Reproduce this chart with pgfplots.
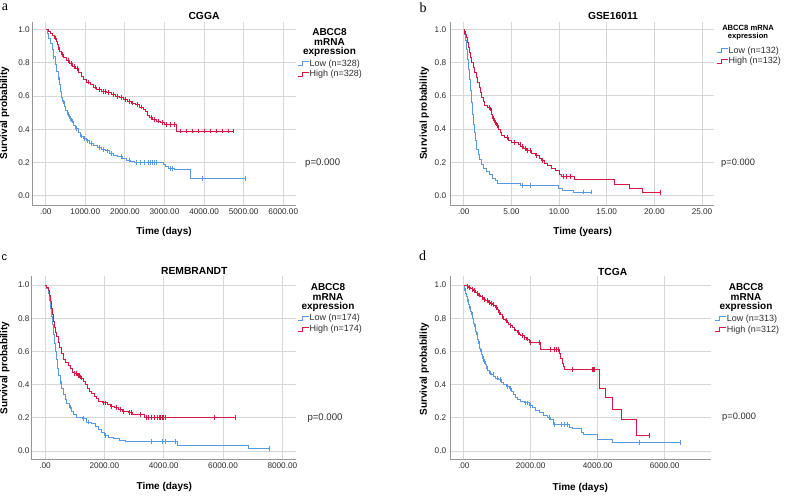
\documentclass[border=0pt]{standalone}
\usepackage{pgfplots}
\pgfplotsset{compat=1.18}
\usepackage{fontspec}
\setmainfont{Liberation Sans}
\newfontfamily\serifletter{Liberation Serif}
\definecolor{kmblue}{RGB}{90,152,225}
\definecolor{kmred}{RGB}{215,25,65}
\definecolor{gridgray}{RGB}{215,215,215}
\definecolor{axgray}{RGB}{150,150,150}
\definecolor{txt}{RGB}{45,45,45}
\newcommand{\fs}[1]{\fontsize{#1}{#1}\selectfont}
\newcommand{\kmicon}[3]{\draw[draw=#1, line width=0.9pt] (#2pt,#3pt) -- ++(5pt,0pt) -- ++(0pt,4pt) -- ++(6.5pt,0pt);}
\pgfplotsset{
  kmaxis/.style={
    scale only axis, height=184pt, anchor=north west,
    axis x line*=bottom, axis y line*=left,
    axis line style={draw=axgray, line width=0.8pt, -},
    grid=major, grid style={draw=gridgray, line width=0.8pt},
    major tick length=0pt,
    /pgf/number format/assume math mode=true,
    tick label style={font=\fs{8.2}, text=txt},
    xticklabel style={anchor=north, inner sep=0pt, yshift=-3pt},
    yticklabel style={anchor=east, inner sep=0pt},
    ytick={0,0.2,0.4,0.6,0.8,1.0},
    yticklabels={0.0,0.2,0.4,0.6,0.8,1.0},
  },
  kmline/.style={const plot, line width=0.9pt, draw=#1, color=#1},
  kmcens/.style={only marks, mark=|, mark size=2.4pt, draw=#1, color=#1, mark options={solid, line width=0.7pt, draw=#1, color=#1}},
}
\begin{document}
\begin{tikzpicture}
\useasboundingbox (0pt,0pt) rectangle (792pt,-498pt);

% ---------------- Panel a: CGGA ----------------
\begin{axis}[kmaxis, at={(32pt,-21.7pt)}, width=264pt,
  xmin=-346, xmax=6321, ymin=-0.060, ymax=1.048,
  xtick={0,1000,2000,3000,4000,5000,6000},
  xticklabels={.00,1000.00,2000.00,3000.00,4000.00,5000.00,6000.00},
  yticklabel style={xshift=-2pt}]
\addplot[kmline=kmblue] coordinates {(0,1.0) (40,0.98) (80,0.95) (120,0.92) (160,0.88) (200,0.84) (240,0.79) (280,0.75) (310,0.71) (340,0.67) (370,0.63) (400,0.59) (430,0.565) (470,0.54) (510,0.515) (550,0.49) (600,0.465) (650,0.45) (700,0.425) (760,0.405) (820,0.38) (880,0.36) (950,0.345) (1020,0.33) (1100,0.315) (1200,0.305) (1300,0.29) (1400,0.28) (1500,0.27) (1600,0.255) (1700,0.245) (1800,0.235) (1950,0.225) (2050,0.215) (2150,0.205) (2250,0.20) (2970,0.19) (3020,0.177) (3100,0.165) (3250,0.157) (3660,0.106) (5030,0.106)};
\addplot[kmcens=kmblue] coordinates {(200,0.84) (320,0.71) (450,0.565) (560,0.49) (620,0.465) (680,0.45) (780,0.405) (900,0.36) (980,0.345) (1050,0.33) (1150,0.315) (1350,0.29) (1450,0.28) (1550,0.27) (1650,0.255) (1900,0.235) (2100,0.215) (2300,0.20) (2400,0.20) (2500,0.20) (2600,0.20) (2650,0.20) (2700,0.20) (2750,0.20) (2800,0.20) (3150,0.165) (3200,0.165) (3950,0.106) (5030,0.106)};
\addplot[kmline=kmred] coordinates {(0,1.0) (60,0.99) (120,0.98) (180,0.965) (230,0.95) (270,0.93) (300,0.91) (320,0.89) (350,0.87) (400,0.85) (450,0.835) (520,0.815) (600,0.795) (680,0.78) (760,0.765) (830,0.745) (900,0.72) (960,0.70) (1040,0.685) (1120,0.67) (1200,0.655) (1290,0.64) (1400,0.63) (1540,0.622) (1650,0.61) (1750,0.598) (1850,0.59) (1960,0.578) (2060,0.568) (2170,0.558) (2270,0.548) (2380,0.534) (2460,0.52) (2520,0.505) (2570,0.485) (2620,0.47) (2700,0.458) (2800,0.45) (2900,0.44) (3000,0.43) (3290,0.39) (4740,0.39)};
\addplot[kmcens=kmred] coordinates {(250,0.95) (330,0.89) (420,0.85) (560,0.815) (640,0.795) (720,0.78) (800,0.765) (1080,0.685) (1250,0.655) (1350,0.64) (1450,0.63) (1500,0.63) (1580,0.622) (1700,0.61) (1800,0.598) (1900,0.59) (2000,0.578) (2100,0.568) (2200,0.558) (2320,0.548) (2420,0.534) (2660,0.47) (2750,0.458) (2850,0.45) (2950,0.44) (3050,0.43) (3150,0.43) (3250,0.43) (3400,0.39) (3550,0.39) (3700,0.39) (3850,0.39) (4000,0.39) (4150,0.39) (4300,0.39) (4450,0.39) (4600,0.39) (4740,0.39)};
\end{axis}

% ---------------- Panel b: GSE16011 ----------------
\begin{axis}[kmaxis, at={(450.3pt,-21.7pt)}, width=264pt,
  xmin=-1.41, xmax=26.29, ymin=-0.060, ymax=1.0456,
  xtick={0,5,10,15,20,25},
  xticklabels={.00,5.00,10.00,15.00,20.00,25.00},
  yticklabel style={xshift=-4pt}]
\addplot[kmline=kmblue] coordinates {(0,1.0) (0.1,0.97) (0.2,0.93) (0.3,0.88) (0.4,0.82) (0.5,0.76) (0.6,0.70) (0.7,0.63) (0.8,0.56) (0.9,0.49) (1.0,0.43) (1.1,0.38) (1.2,0.33) (1.35,0.28) (1.5,0.25) (1.7,0.22) (1.9,0.19) (2.1,0.165) (2.4,0.145) (2.7,0.125) (3.0,0.105) (3.3,0.09) (3.5,0.076) (6.0,0.06) (9.9,0.045) (10.4,0.03) (11.5,0.022) (13.4,0.022)};
\addplot[kmcens=kmblue] coordinates {(6.1,0.06) (7.0,0.06) (12.6,0.022) (13.4,0.022)};
\addplot[kmline=kmred] coordinates {(0,1.0) (0.1,0.985) (0.2,0.97) (0.3,0.95) (0.4,0.92) (0.5,0.89) (0.6,0.86) (0.7,0.83) (0.85,0.80) (1.0,0.77) (1.15,0.74) (1.3,0.71) (1.45,0.68) (1.6,0.65) (1.75,0.62) (1.9,0.59) (2.05,0.565) (2.2,0.545) (2.5,0.53) (2.75,0.515) (2.9,0.49) (3.05,0.465) (3.2,0.44) (3.4,0.42) (3.6,0.40) (3.8,0.38) (4.0,0.365) (4.3,0.35) (4.7,0.335) (5.05,0.32) (5.7,0.31) (6.0,0.295) (6.3,0.285) (6.6,0.27) (7.1,0.255) (7.5,0.24) (7.9,0.225) (8.2,0.21) (8.5,0.195) (8.8,0.18) (9.2,0.165) (9.6,0.15) (10.0,0.13) (10.3,0.115) (11.6,0.096) (15.8,0.066) (17.4,0.042) (18.8,0.02) (20.6,0.02)};
\addplot[kmcens=kmred] coordinates {(0.1,0.985) (2.7,0.53) (2.85,0.515) (3.1,0.465) (3.3,0.44) (3.5,0.42) (4.6,0.35) (5.3,0.32) (5.9,0.31) (6.1,0.295) (6.5,0.285) (6.7,0.27) (7.0,0.27) (7.6,0.24) (8.3,0.21) (10.4,0.115) (10.8,0.115) (11.2,0.115) (20.6,0.02)};
\end{axis}

% ---------------- Panel c: REMBRANDT ----------------
\begin{axis}[kmaxis, at={(31.7pt,-275.7pt)}, width=264.3pt,
  xmin=-448, xmax=8460, ymin=-0.052, ymax=1.056,
  xtick={0,2000,4000,6000,8000},
  xticklabels={.00,2000.00,4000.00,6000.00,8000.00},
  yticklabel style={xshift=-2pt}]
\addplot[kmline=kmblue] coordinates {(0,1.0) (60,0.98) (110,0.95) (150,0.91) (190,0.86) (220,0.81) (250,0.76) (280,0.70) (310,0.65) (340,0.60) (380,0.55) (420,0.50) (460,0.455) (520,0.42) (560,0.38) (620,0.34) (680,0.31) (740,0.285) (820,0.265) (880,0.24) (950,0.22) (1050,0.205) (1250,0.195) (1400,0.175) (1550,0.165) (1700,0.15) (1800,0.13) (1900,0.11) (2000,0.095) (2150,0.085) (2300,0.075) (2500,0.065) (2700,0.056) (4450,0.036) (6850,0.016) (7560,0.016)};
\addplot[kmcens=kmblue] coordinates {(530,0.42) (870,0.265) (1300,0.195) (1450,0.175) (2020,0.095) (3600,0.056) (3950,0.056) (4050,0.056) (4400,0.056) (7560,0.016)};
\addplot[kmline=kmred] coordinates {(0,1.0) (50,0.985) (100,0.965) (150,0.935) (190,0.90) (220,0.86) (250,0.82) (280,0.78) (320,0.745) (360,0.715) (400,0.69) (450,0.655) (500,0.625) (560,0.585) (620,0.55) (700,0.535) (780,0.515) (850,0.495) (920,0.475) (1000,0.465) (1100,0.455) (1200,0.44) (1280,0.42) (1350,0.40) (1420,0.38) (1500,0.36) (1580,0.345) (1660,0.33) (1740,0.315) (1800,0.30) (1950,0.29) (2100,0.28) (2200,0.27) (2350,0.26) (2480,0.25) (2600,0.24) (2800,0.23) (2950,0.22) (3350,0.20) (6430,0.20)};
\addplot[kmcens=kmred] coordinates {(1000,0.465) (1050,0.465) (1120,0.455) (1160,0.455) (1220,0.44) (1960,0.29) (2050,0.29) (2250,0.27) (2400,0.26) (2550,0.25) (2650,0.24) (2850,0.23) (2900,0.23) (3200,0.22) (3400,0.20) (3500,0.20) (3600,0.20) (3700,0.20) (3800,0.20) (3850,0.20) (3900,0.20) (3950,0.20) (4000,0.20) (4050,0.20) (5700,0.20) (6430,0.20)};
\end{axis}

% ---------------- Panel d: TCGA ----------------
\begin{axis}[kmaxis, at={(450.3pt,-275.7pt)}, width=260.7pt,
  xmin=-400, xmax=7382, ymin=-0.052, ymax=1.056,
  xtick={0,2000,4000,6000},
  xticklabels={.00,2000.00,4000.00,6000.00},
  yticklabel style={xshift=-4pt}]
\addplot[kmline=kmblue] coordinates {(0,1.0) (30,0.97) (60,0.95) (90,0.93) (120,0.90) (150,0.88) (180,0.86) (210,0.84) (240,0.82) (270,0.80) (300,0.77) (330,0.75) (360,0.72) (390,0.70) (420,0.67) (450,0.65) (480,0.62) (510,0.60) (540,0.58) (570,0.56) (600,0.54) (640,0.52) (680,0.50) (720,0.485) (780,0.47) (840,0.46) (900,0.45) (960,0.44) (1040,0.43) (1120,0.415) (1200,0.40) (1280,0.39) (1360,0.375) (1420,0.36) (1480,0.34) (1540,0.325) (1600,0.31) (1680,0.30) (1800,0.29) (1950,0.275) (2050,0.26) (2150,0.245) (2250,0.23) (2380,0.215) (2500,0.20) (2600,0.19) (2680,0.16) (3150,0.145) (3250,0.135) (3500,0.115) (3560,0.10) (4000,0.072) (4440,0.052) (6460,0.052)};
\addplot[kmcens=kmblue] coordinates {(50,0.97) (130,0.90) (200,0.86) (260,0.82) (350,0.75) (400,0.70) (460,0.65) (520,0.60) (580,0.56) (620,0.54) (700,0.50) (800,0.47) (880,0.46) (1000,0.44) (1100,0.43) (1300,0.39) (1400,0.375) (1850,0.29) (1900,0.29) (2000,0.275) (2550,0.20) (2700,0.16) (2900,0.16) (3000,0.16) (3100,0.16) (5250,0.052) (6460,0.052)};
\addplot[kmline=kmred] coordinates {(0,1.0) (50,0.995) (100,0.99) (150,0.985) (200,0.98) (250,0.975) (300,0.965) (350,0.955) (400,0.95) (450,0.94) (500,0.93) (550,0.925) (600,0.915) (650,0.91) (700,0.905) (750,0.895) (800,0.89) (850,0.885) (900,0.875) (950,0.865) (1000,0.85) (1050,0.835) (1100,0.825) (1150,0.81) (1200,0.795) (1250,0.785) (1300,0.775) (1350,0.765) (1400,0.755) (1450,0.745) (1500,0.735) (1550,0.725) (1600,0.715) (1650,0.705) (1700,0.695) (1800,0.685) (1880,0.675) (1950,0.655) (2290,0.614) (2860,0.59) (2900,0.555) (2940,0.53) (2980,0.51) (3010,0.49) (4050,0.38) (4230,0.32) (4450,0.253) (4720,0.189) (5160,0.096) (5540,0.096)};
\addplot[kmcens=kmred] coordinates {(100,0.99) (180,0.985) (260,0.975) (330,0.965) (420,0.95) (480,0.94) (560,0.925) (620,0.915) (700,0.905) (760,0.895) (820,0.89) (880,0.885) (960,0.865) (1060,0.835) (1160,0.81) (1280,0.785) (1400,0.755) (1520,0.735) (1620,0.715) (1750,0.695) (1820,0.685) (1900,0.675) (2000,0.655) (2250,0.655) (2600,0.614) (2700,0.614) (2780,0.614) (2820,0.614) (3250,0.49) (3850,0.49) (3880,0.49) (3900,0.49) (5540,0.096)};
\end{axis}

% ---------------- Text: panel a ----------------
\node[anchor=base, inner sep=0pt, font=\serifletter\fs{14}] at (5pt,-10pt) {a};
\node[anchor=base, inner sep=0pt, font=\bfseries\fs{10.3}] at (204pt,-19pt) {CGGA};
\node[rotate=90, inner sep=0pt, font=\bfseries\fs{10}] at (4.5pt,-113pt) {Survival probability};
\node[anchor=base, inner sep=0pt, font=\bfseries\fs{10}] at (164pt,-234.5pt) {Time (days)};
\node[anchor=base, inner sep=0pt, font=\bfseries\fs{10}] at (329.5pt,-35pt) {ABCC8};
\node[anchor=base, inner sep=0pt, font=\bfseries\fs{10}] at (329.5pt,-45pt) {mRNA};
\node[anchor=base, inner sep=0pt, font=\bfseries\fs{10}] at (329.5pt,-54pt) {expression};
\kmicon{kmblue}{297.5}{-65.5}
\kmicon{kmred}{297.5}{-76}
\node[anchor=base west, inner sep=0pt, font=\fs{9}, text=txt] at (309.5pt,-66pt) {Low (n=328)};
\node[anchor=base west, inner sep=0pt, font=\fs{9}, text=txt] at (309.5pt,-76.5pt) {High (n=328)};
\node[anchor=base west, inner sep=0pt, font=\fs{9.6}, text=txt] at (305pt,-165.3pt) {p=0.000};

% ---------------- Text: panel b ----------------
\node[anchor=base, inner sep=0pt, font=\serifletter\fs{14}] at (423pt,-12.5pt) {b};
\node[anchor=base, inner sep=0pt, font=\bfseries\fs{10.3}] at (613pt,-19pt) {GSE16011};
\node[rotate=90, inner sep=0pt, font=\bfseries\fs{10}] at (424.3pt,-113.3pt) {Survival probability};
\node[anchor=base, inner sep=0pt, font=\bfseries\fs{10}] at (582.7pt,-234.5pt) {Time (years)};
\node[anchor=base, inner sep=0pt, font=\bfseries\fs{7.6}] at (748pt,-30pt) {ABCC8 mRNA};
\node[anchor=base, inner sep=0pt, font=\bfseries\fs{7.6}] at (748pt,-38pt) {expression};
\kmicon{kmblue}{716.5}{-52.5}
\kmicon{kmred}{716.5}{-63}
\node[anchor=base west, inner sep=0pt, font=\fs{9}, text=txt] at (728.5pt,-53pt) {Low (n=132)};
\node[anchor=base west, inner sep=0pt, font=\fs{9}, text=txt] at (728.5pt,-63.5pt) {High (n=132)};
\node[anchor=base west, inner sep=0pt, font=\fs{9.3}, text=txt] at (721pt,-165.7pt) {p=0.000};

% ---------------- Text: panel c ----------------
\node[anchor=base, inner sep=0pt, font=\fs{11}] at (4.5pt,-260pt) {c};
\node[anchor=base, inner sep=0pt, font=\bfseries\fs{10.3}] at (194.3pt,-274pt) {REMBRANDT};
\node[rotate=90, inner sep=0pt, font=\bfseries\fs{10}] at (4.7pt,-368pt) {Survival probability};
\node[anchor=base, inner sep=0pt, font=\bfseries\fs{10}] at (164.3pt,-489pt) {Time (days)};
\node[anchor=base, inner sep=0pt, font=\bfseries\fs{10}] at (328pt,-290pt) {ABCC8};
\node[anchor=base, inner sep=0pt, font=\bfseries\fs{10}] at (328pt,-300pt) {mRNA};
\node[anchor=base, inner sep=0pt, font=\bfseries\fs{10}] at (328pt,-309pt) {expression};
\kmicon{kmblue}{297.5}{-320}
\kmicon{kmred}{297.5}{-331}
\node[anchor=base west, inner sep=0pt, font=\fs{9}, text=txt] at (309.5pt,-320.5pt) {Low (n=174)};
\node[anchor=base west, inner sep=0pt, font=\fs{9}, text=txt] at (309.5pt,-331.5pt) {High (n=174)};
\node[anchor=base west, inner sep=0pt, font=\fs{9.6}, text=txt] at (307.3pt,-420pt) {p=0.000};

% ---------------- Text: panel d ----------------
\node[anchor=base, inner sep=0pt, font=\serifletter\fs{14}] at (422.7pt,-260.7pt) {d};
\node[anchor=base, inner sep=0pt, font=\bfseries\fs{10.3}] at (612.7pt,-275pt) {TCGA};
\node[rotate=90, inner sep=0pt, font=\bfseries\fs{10}] at (424.3pt,-369pt) {Survival probability};
\node[anchor=base, inner sep=0pt, font=\bfseries\fs{10}] at (580.3pt,-490pt) {Time (days)};
\node[anchor=base, inner sep=0pt, font=\bfseries\fs{10}] at (746pt,-290pt) {ABCC8};
\node[anchor=base, inner sep=0pt, font=\bfseries\fs{10}] at (746pt,-300pt) {mRNA};
\node[anchor=base, inner sep=0pt, font=\bfseries\fs{10}] at (746pt,-309pt) {expression};
\kmicon{kmblue}{714.5}{-320.5}
\kmicon{kmred}{714.5}{-331.5}
\node[anchor=base west, inner sep=0pt, font=\fs{9}, text=txt] at (726.7pt,-321pt) {Low (n=313)};
\node[anchor=base west, inner sep=0pt, font=\fs{9}, text=txt] at (726.7pt,-332pt) {High (n=312)};
\node[anchor=base west, inner sep=0pt, font=\fs{9.3}, text=txt] at (722pt,-419pt) {p=0.000};
\end{tikzpicture}
\end{document}
